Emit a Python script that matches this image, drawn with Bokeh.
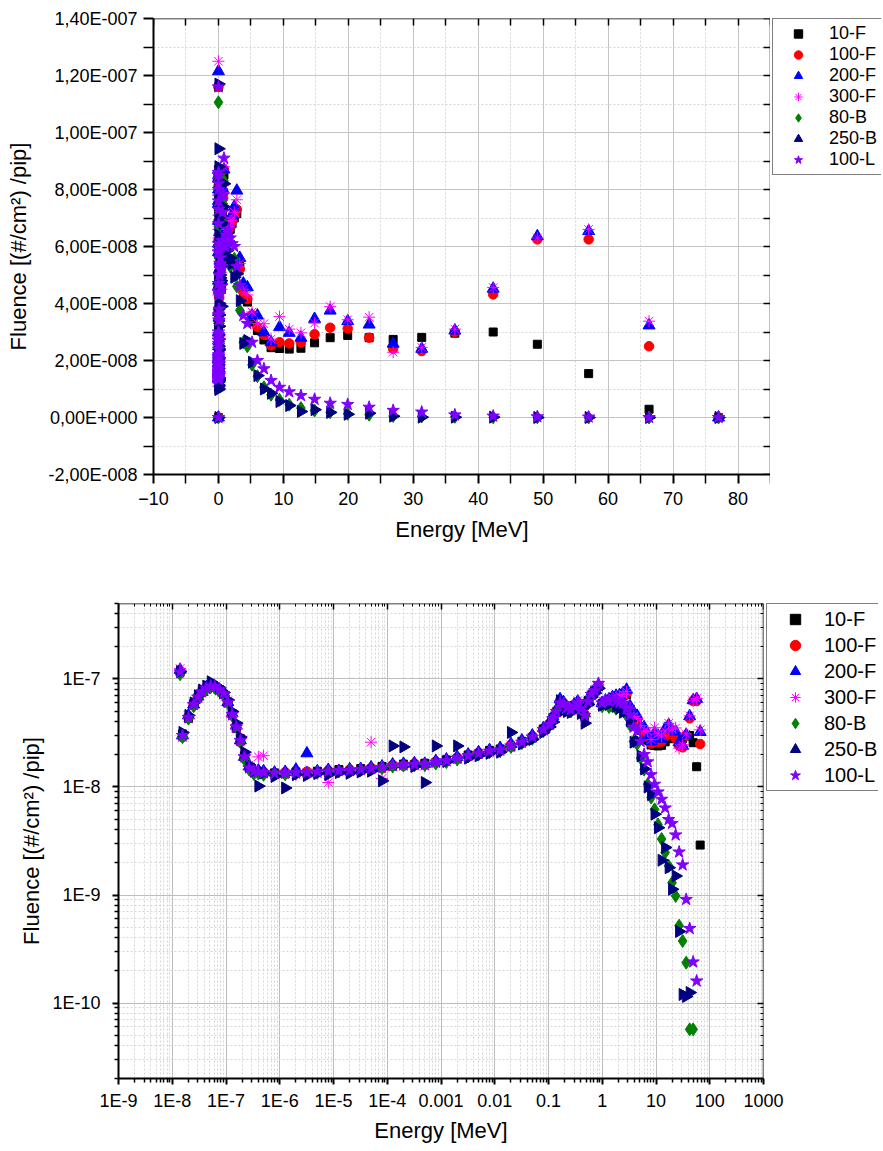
import numpy as np
from bokeh.plotting import figure
from bokeh.models import (Range1d, FixedTicker, LinearAxis, Legend, LegendItem,
                          ColumnDataSource, BasicTickFormatter)
from bokeh.layouts import row
from bokeh.embed import file_html
from bokeh.resources import INLINE

FONT = "Liberation Sans"

# ---------------- data (energy in MeV, fluence in units of 1E-8 #/cm2/pip) ----
energy = [
    1.0e-8, 1.40e-8, 1.55e-8, 2.0e-8, 2.5e-8, 3.0e-8, 3.6e-8, 4.3e-8, 5.2e-8, 6.2e-8,
    7.5e-8, 9.0e-8, 1.08e-7, 1.30e-7, 1.55e-7, 1.85e-7, 2.2e-7, 2.7e-7, 3.3e-7, 4.0e-7,
    5.0e-7, 8.0e-7, 1.26e-6, 2.0e-6, 3.2e-6, 5.0e-6, 8.0e-6, 1.26e-5, 2.0e-5, 3.2e-5,
    5.0e-5, 8.0e-5, 1.26e-4, 2.0e-4, 3.2e-4, 5.0e-4, 8.0e-4, 1.26e-3, 2.0e-3, 3.2e-3,
    5.0e-3, 8.0e-3, 1.26e-2, 2.0e-2, 3.2e-2, 5.0e-2, 8.0e-2, 0.104, 0.121, 0.141,
    0.164, 0.19, 0.22, 0.26, 0.30, 0.35, 0.40, 0.47, 0.545, 0.63,
    0.73, 0.85, 0.99, 1.15, 1.34, 1.55, 1.81, 2.10, 2.44, 2.83,
    3.29, 3.83, 4.45, 5.17, 6.0, 7.0, 8.1, 9.4, 10.9, 12.7,
    14.8, 17.2, 19.9, 23.2, 26.9, 31.3, 36.4, 42.3, 49.1, 57.0,
    66.3, 77.0]

f_10F = [
    0, 11.6, 3.1, 4.3, 5.9, 6.7, 7.7, 8.1, 8.7, 8.4, 7.9, 7.2, 6.0, 4.8, 3.5, 2.8, 1.95, 1.5, 1.38, 1.36,
    1.33, 1.35, 1.32, 1.38, 1.34, 1.40, 1.37, 1.45, 1.40, 1.48, 1.46, 1.55, 1.56, 1.63, 1.60, 1.66, 1.68,
    1.78, 1.82, 1.98, 2.02, 2.18, 2.25, 2.35, 2.65, 2.85, 3.45,
    3.75, 4.4, 4.9, 6.1, 5.8, 5.5, 5.1, 5.7, 5.9, 5.4, 4.5, 6.3, 7.1, 7.9, 8.5,
    5.9, 6.1, 6.3, 6.5, 6.6, 6.8, 7.0, 7.15, 5.3, 4.15, 4.05, 3.35, 3.05, 2.72, 2.45, 2.42, 2.40, 2.43,
    2.62, 2.80, 2.88, 2.80, 2.74, 2.81, 2.96, 3.0, 2.57, 1.54, 0.29, 0]
f_100F = [
    0, 11.6, 2.9, 4.5, 5.7, 6.9, 7.5, 8.3, 8.5, 8.6, 8.1, 7.4, 6.2, 4.6, 3.7, 2.6, 1.85, 1.55, 1.42, 1.40,
    1.38, 1.31, 1.37, 1.33, 1.39, 1.36, 1.42, 1.40, 1.45, 1.43, 1.50, 1.49, 1.60, 1.57, 1.65, 1.60, 1.72,
    1.73, 1.88, 1.92, 2.08, 2.12, 2.22, 2.45, 2.55, 2.95, 3.35,
    3.85, 4.2, 5.1, 5.9, 6.0, 5.3, 5.3, 5.5, 6.1, 5.2, 4.7, 6.1, 7.3, 7.7, 8.7,
    5.8, 6.0, 6.2, 6.6, 6.7, 6.9, 7.1, 7.3, 5.2, 4.4, 4.16, 3.6, 3.17, 2.9, 2.53, 2.64, 2.60, 2.63,
    2.92, 3.15, 3.12, 2.80, 2.41, 2.33, 3.0, 4.32, 6.25, 6.25, 2.50, 0]
f_200F = [
    0, 12.15, 3.0, 4.6, 5.8, 6.9, 7.6, 8.4, 8.7, 8.5, 8.0, 7.5, 6.1, 4.8, 3.7, 2.7, 1.9, 1.55, 1.45, 1.42,
    1.40, 1.36, 1.38, 1.45, 2.05, 1.40, 1.44, 1.41, 1.46, 1.47, 1.52, 1.55, 1.62, 1.64, 1.66, 1.64, 1.74,
    1.80, 1.90, 2.0, 2.1, 2.2, 2.3, 2.5, 2.7, 3.0, 3.5,
    3.9, 4.5, 5.2, 6.5, 6.1, 5.5, 5.4, 5.8, 6.2, 5.4, 4.8, 6.4, 7.4, 8.0, 8.7,
    6.0, 6.3, 6.5, 6.8, 7.0, 7.1, 7.4, 7.96, 5.6, 4.7, 4.57, 3.58, 3.58, 2.99, 2.64, 3.17, 2.97, 2.80,
    3.46, 3.75, 3.38, 3.26, 2.59, 2.41, 3.05, 4.52, 6.36, 6.54, 3.23, 0]
f_300F = [
    0, 12.5, 2.85, 4.3, 5.9, 6.6, 7.8, 8.0, 8.4, 8.6, 7.8, 7.1, 6.3, 4.5, 3.5, 2.8, 2.0, 1.6, 1.45, 1.9,
    1.95, 1.30, 1.33, 1.30, 1.36, 1.33, 1.10, 1.38, 1.40, 1.42, 2.6, 1.20, 1.55, 1.58, 1.60, 1.56, 1.66,
    1.70, 1.80, 1.90, 2.0, 2.1, 2.15, 2.45, 2.6, 2.85, 3.3,
    3.7, 4.4, 5.0, 6.2, 5.8, 5.6, 5.3, 5.5, 6.3, 5.1, 4.5, 6.0, 7.0, 7.9, 8.8,
    5.7, 6.2, 6.4, 6.7, 6.9, 6.9, 7.2, 7.64, 5.4, 4.5, 4.3, 3.7, 3.3, 3.29, 2.75, 3.54, 3.1, 2.97,
    3.31, 3.89, 3.43, 3.52, 2.29, 2.46, 3.1, 4.56, 6.3, 6.6, 3.38, 0]
f_80B = [
    0, 11.06, 2.9, 4.3, 5.6, 6.7, 7.5, 8.1, 8.4, 8.3, 7.8, 7.1, 6.0, 4.6, 3.6, 2.6, 1.8, 1.45, 1.32, 1.33,
    1.30, 1.32, 1.31, 1.34, 1.33, 1.36, 1.38, 1.40, 1.43, 1.44, 1.47, 1.50, 1.55, 1.58, 1.59, 1.60, 1.65,
    1.70, 1.80, 1.92, 2.0, 2.1, 2.15, 2.35, 2.55, 2.8, 3.3,
    3.7, 4.2, 4.9, 5.8, 5.7, 5.2, 5.0, 5.4, 5.8, 5.1, 4.5, 5.9, 6.9, 7.5, 8.3,
    5.6, 5.8, 5.5, 5.6, 5.3, 5.5, 5.57, 4.6, 3.76, 2.64, 2.5, 1.85, 1.45, 1.06, 0.80, 0.62, 0.45, 0.33,
    0.247, 0.186, 0.13, 0.098, 0.052, 0.0375, 0.0236, 0.0057, 0.0057, 0, 0, 0]
f_250B = [
    0, 11.7, 3.2, 4.6, 6.0, 7.0, 7.9, 8.6, 9.43, 8.8, 8.3, 7.5, 6.4, 5.0, 3.9, 2.9, 2.1, 1.6, 1.4, 1.02,
    1.35, 1.25, 0.98, 1.30, 1.28, 1.33, 1.30, 1.36, 1.34, 1.38, 1.40, 1.14, 2.4, 2.35, 1.55, 1.10, 2.4,
    1.72, 2.4, 1.85, 1.95, 2.05, 2.1, 3.2, 2.5, 2.75, 3.2,
    3.6, 4.0, 4.7, 6.3, 5.5, 5.0, 4.9, 5.3, 5.7, 4.8, 3.9, 5.8, 6.8, 7.4, 8.2,
    5.7, 5.9, 5.86, 6.1, 5.6, 5.4, 4.92, 5.04, 4.1, 2.6, 2.7, 1.94, 1.47, 1.0, 0.85, 0.56, 0.42, 0.21,
    0.275, 0.179, 0.113, 0.15, 0.046, 0.012, 0.0115, 0.0125, 0, 0, 0, 0]
f_100L = [
    0, 11.6, 3.0, 4.4, 5.8, 6.8, 7.6, 8.2, 8.6, 8.5, 8.0, 7.3, 6.1, 4.7, 3.6, 2.7, 1.9, 1.5, 1.4, 1.38,
    1.36, 1.34, 1.35, 1.36, 1.36, 1.38, 1.40, 1.42, 1.42, 1.45, 1.48, 1.52, 1.58, 1.60, 1.62, 1.62, 1.70,
    1.75, 1.85, 1.95, 2.05, 2.15, 2.2, 2.4, 2.6, 2.9, 3.4,
    3.8, 4.3, 5.0, 6.0, 5.9, 5.4, 5.2, 5.6, 6.0, 5.3, 4.6, 6.2, 7.2, 7.8, 9.1,
    6.0, 6.4, 6.2, 6.6, 6.3, 6.1, 6.0, 5.3, 4.63, 3.58, 3.3, 2.64, 2.0, 1.71, 1.30, 1.06, 0.90, 0.77,
    0.64, 0.50, 0.46, 0.36, 0.25, 0.19, 0.091, 0.049, 0.024, 0.016, 0, 0]

series_names = ["10-F", "100-F", "200-F", "300-F", "80-B", "250-B", "100-L"]
series_values = [f_10F, f_100F, f_200F, f_300F, f_80B, f_250B, f_100L]
UNIT = 1e-8

# tick values / labels
lin_x_ticks = [-10, 0, 10, 20, 30, 40, 50, 60, 70, 80]
lin_y_ticks = [-2e-8, 0.0, 2e-8, 4e-8, 6e-8, 8e-8, 1e-7, 1.2e-7, 1.4e-7]
lin_y_labels = ["-2,00E-008", "0,00E+000", "2,00E-008", "4,00E-008", "6,00E-008",
                "8,00E-008", "1,00E-007", "1,20E-007", "1,40E-007"]
log_x_ticks = [1e-9, 1e-8, 1e-7, 1e-6, 1e-5, 1e-4, 1e-3, 1e-2, 1e-1, 1.0, 10.0, 100.0, 1000.0]
log_x_labels = ["1E-9", "1E-8", "1E-7", "1E-6", "1E-5", "1E-4", "0.001", "0.01", "0.1",
                "1", "10", "100", "1000"]
log_y_ticks = [1e-10, 1e-9, 1e-8, 1e-7]
log_y_labels = ["1E-10", "1E-9", "1E-8", "1E-7"]

# ---------------- styles ----------------
STYLES = [
    dict(marker="square", size=8, fill_color="black", line_color="black", angle=0.0),
    dict(marker="circle", size=9.5, fill_color="#ff0000", line_color="#ff0000", angle=0.0),
    dict(marker="triangle", size=12, fill_color="#0000ff", line_color="#0000ff", angle=0.0),
    dict(marker="asterisk", size=12, fill_color=None, line_color="#ff00ff", angle=0.0),
    dict(marker="diamond", size=13, fill_color="#008000", line_color="#008000", angle=0.0),
    dict(marker="triangle", size=12, fill_color="#000080", line_color="#000080", angle=-np.pi / 2),
    dict(marker="star", size=13, fill_color="#8000ff", line_color="#8000ff", angle=0.0),
]


def style_main_axis(ax, label, tick_out, minor_out, standoff, label_standoff):
    ax.axis_label = label
    ax.axis_label_text_font = FONT
    ax.axis_label_text_font_size = "22px"
    ax.axis_label_text_font_style = "normal"
    ax.axis_label_text_color = "black"
    ax.axis_label_standoff = label_standoff
    ax.major_label_text_font = FONT
    ax.major_label_text_font_size = "18px"
    ax.major_label_text_color = "black"
    ax.major_label_standoff = standoff
    ax.axis_line_color = "black"
    ax.axis_line_width = 2
    ax.major_tick_line_color = "black"
    ax.major_tick_line_width = 2
    ax.major_tick_out = tick_out
    ax.major_tick_in = 0
    ax.minor_tick_line_color = "black"
    ax.minor_tick_line_width = 1.5
    ax.minor_tick_out = minor_out
    ax.minor_tick_in = 0


def mirror_axis(ticks, minor, tick_in, minor_in, loc):
    # drawn at a fixed data location on the frame edge, so it takes no side-panel room
    return LinearAxis(ticker=FixedTicker(ticks=ticks, minor_ticks=minor),
                      formatter=BasicTickFormatter(), fixed_location=loc,
                      major_label_overrides={t: "" for t in ticks},
                      major_label_text_color=None, major_label_standoff=0,
                      axis_line_color="black", axis_line_width=1.5,
                      major_tick_line_color="black", major_tick_line_width=1.5,
                      major_tick_in=tick_in, major_tick_out=0,
                      minor_tick_line_color="black", minor_tick_line_width=1,
                      minor_tick_in=minor_in, minor_tick_out=0)


def style_grid(p, major_color):
    for g in (p.xgrid, p.ygrid):
        g.grid_line_color = major_color
        g.grid_line_width = 1
        g.minor_grid_line_color = "#d6d6d6"
        g.minor_grid_line_dash = "2 2"
        g.minor_grid_line_width = 1


def legend_panel(sources, frame_w, frame_h, top, bottom, left,
                 font_size, glyph_w, glyph_h, padding, standoff, shift=0):
    """A bare, transparent figure next to the chart that only carries the legend box.
    Its ranges lie away from all data, so the series drawn here stay out of view."""
    lf = figure(frame_width=frame_w, frame_height=frame_h,
                x_range=Range1d(1000, 1001), y_range=Range1d(1000, 1001),
                output_backend="svg", toolbar_location=None,
                x_axis_location=None, y_axis_location=None,
                min_border_left=left, min_border_right=0,
                min_border_top=top, min_border_bottom=bottom)
    lf.grid.visible = False
    lf.outline_line_color = None
    lf.background_fill_color = None
    lf.border_fill_color = None
    if shift:
        lf.margin = (0, 0, 0, -shift)
    rs = []
    for src, st in zip(sources, STYLES):
        rs.append(lf.scatter("x", "y", source=src, marker=st["marker"], size=st["size"],
                             fill_color=st["fill_color"], line_color=st["line_color"],
                             line_width=1, angle=st["angle"]))
    items = [LegendItem(label=n, renderers=[r]) for n, r in zip(series_names, rs)]
    leg = Legend(items=items, location="top_left", orientation="vertical",
                 label_text_font=FONT, label_text_font_size=font_size,
                 label_text_color="black",
                 glyph_width=glyph_w, glyph_height=glyph_h, label_height=glyph_h,
                 label_standoff=standoff, padding=padding, spacing=0, margin=0,
                 border_line_color="black", border_line_width=1,
                 background_fill_color="white", background_fill_alpha=1.0)
    lf.add_layout(leg)
    return lf


# ---------------- top : linear ----------------
p1 = figure(frame_width=617, frame_height=456,
            x_range=Range1d(-10, 85), y_range=Range1d(-2e-8, 1.4e-7),
            output_backend="svg", toolbar_location=None,
            min_border_left=153, min_border_right=0, min_border_top=18, min_border_bottom=86)
p1.outline_line_color = None
p1.background_fill_color = "white"

tx1 = FixedTicker(ticks=lin_x_ticks, minor_ticks=[t + 5 for t in lin_x_ticks])
ty1 = FixedTicker(ticks=lin_y_ticks, minor_ticks=[t + 1e-8 for t in lin_y_ticks])
p1.xaxis.ticker = tx1
p1.yaxis.ticker = ty1
p1.xgrid.ticker = tx1
p1.ygrid.ticker = ty1
p1.yaxis.major_label_overrides = dict(zip(lin_y_ticks, lin_y_labels))
style_main_axis(p1.xaxis[0], "Energy [MeV]", 9, 9, 8, 9)
style_main_axis(p1.yaxis[0], "Fluence [(#/cm²) /pip]", 10, 10, 6, 14)
style_grid(p1, "#c4c4c4")
p1.add_layout(mirror_axis(sorted(lin_x_ticks + [t + 5 for t in lin_x_ticks]), [], 7, 0, 1.4e-7),
              "above")
p1.add_layout(mirror_axis(sorted(lin_y_ticks + [t + 1e-8 for t in lin_y_ticks]), [], 7, 0, 85),
              "right")

E = np.array(energy)
src1 = []
for vals, st in zip(series_values, STYLES):
    y = np.array(vals) * UNIT
    src = ColumnDataSource(dict(x=E, y=y))
    src1.append(src)
    p1.scatter("x", "y", source=src, marker=st["marker"], size=st["size"],
               fill_color=st["fill_color"], line_color=st["line_color"],
               line_width=1, angle=st["angle"])
leg1 = legend_panel(src1, 109, 456, 18, 86, 2, "18px", 42, 21, 4, 10)

# ---------------- bottom : log-log ----------------
p2 = figure(frame_width=645, frame_height=475, x_axis_type="log", y_axis_type="log",
            x_range=Range1d(1e-9, 1000), y_range=Range1d(2e-11, 5e-7),
            output_backend="svg", toolbar_location=None,
            min_border_left=118, min_border_right=21, min_border_top=43, min_border_bottom=64)
p2.outline_line_color = None
p2.background_fill_color = "white"

x_minor = [m * d for d in log_x_ticks[:-1] for m in range(2, 10)]
y_minor = [m * d for d in [1e-11] + log_y_ticks for m in range(2, 10)]
tx2 = FixedTicker(ticks=log_x_ticks, minor_ticks=x_minor)
ty2 = FixedTicker(ticks=log_y_ticks, minor_ticks=y_minor)
p2.xaxis.ticker = tx2
p2.yaxis.ticker = ty2
p2.xgrid.ticker = tx2
p2.ygrid.ticker = ty2
p2.xaxis.formatter = BasicTickFormatter()
p2.yaxis.formatter = BasicTickFormatter()
p2.xaxis.major_label_overrides = dict(zip(log_x_ticks, log_x_labels))
p2.yaxis.major_label_overrides = dict(zip(log_y_ticks, log_y_labels))
style_main_axis(p2.xaxis[0], "Energy [MeV]", 6, 4, 6, 4)
style_main_axis(p2.yaxis[0], "Fluence [(#/cm²) /pip]", 6, 4, 12, 5)
style_grid(p2, "#bdbdbd")
p2.add_layout(mirror_axis(log_x_ticks, x_minor, 6, 3, 5e-7), "above")
p2.add_layout(mirror_axis(log_y_ticks, y_minor, 6, 3, 1000), "right")

src2 = []
for vals, st in zip(series_values, STYLES):
    y = np.array(vals) * UNIT
    m = y > 0
    src = ColumnDataSource(dict(x=E[m], y=y[m]))
    src2.append(src)
    p2.scatter("x", "y", source=src, marker=st["marker"], size=st["size"],
               fill_color=st["fill_color"], line_color=st["line_color"],
               line_width=1, angle=st["angle"])
leg2 = legend_panel(src2, 112, 475, 43, 64, 3, "20px", 52, 26, 2, 3, shift=21)

open("out.html", "w").write(file_html([row(p1, leg1), row(p2, leg2)], INLINE))
